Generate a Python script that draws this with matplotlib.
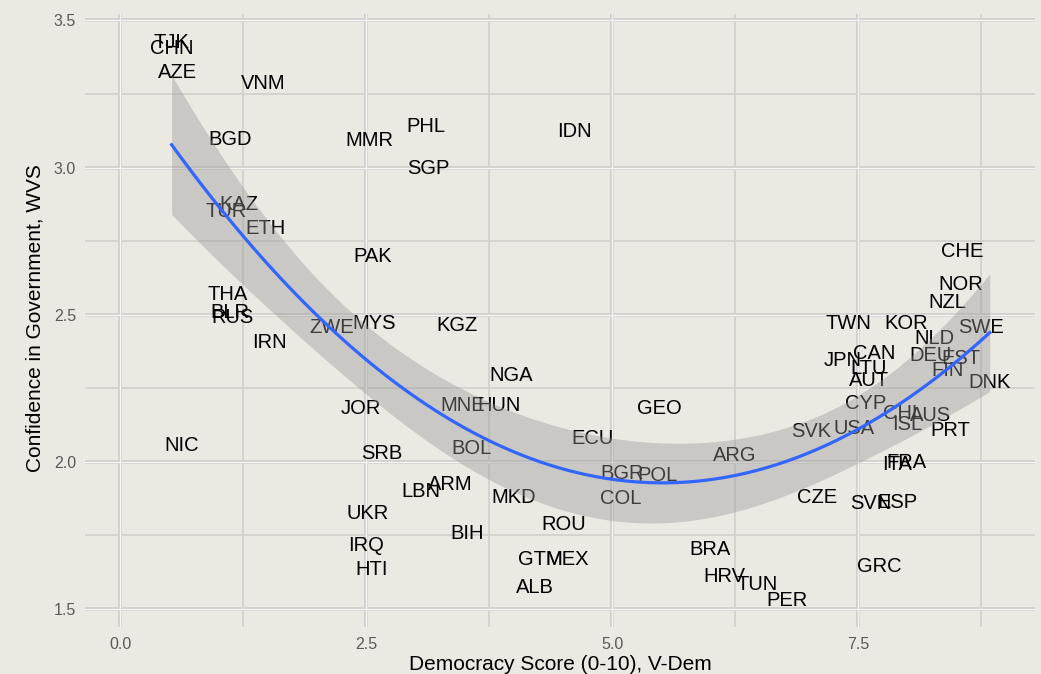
import numpy as np
import matplotlib
matplotlib.use("Agg")
import matplotlib.pyplot as plt
from matplotlib import transforms

# Country codes with democracy score (V-Dem, 0-10) and confidence in government (WVS)
countries = [
    "TJK", "CHN", "AZE", "VNM", "BGD", "KAZ", "TUR", "ETH", "THA", "BLR",
    "RUS", "IRN", "NIC", "ZWE", "MYS", "KGZ", "NGA", "JOR", "MNE", "HUN",
    "GEO", "ECU", "SRB", "BOL", "BGR", "POL", "COL", "ARG", "LBN", "ARM",
    "MKD", "UKR", "IRQ", "HTI", "BIH", "ROU", "GTM", "MEX", "ALB", "BRA",
    "HRV", "TUN", "PER", "CZE", "SVN", "ESP", "GRC", "FRA", "ITA", "SVK",
    "USA", "CYP", "CHL", "ISL", "AUS", "PRT", "AUT", "LTU", "JPN", "CAN",
    "TWN", "KOR", "NLD", "DEU", "EST", "FIN", "DNK", "SWE", "NZL", "NOR",
    "CHE", "IDN", "PHL", "MMR", "SGP", "PAK",
]
democracy = [
    0.52, 0.52, 0.58, 1.45, 1.11, 1.20, 1.07, 1.47, 1.09, 1.11,
    1.14, 1.51, 0.62, 2.15, 2.58, 3.42, 3.97, 2.44, 3.48, 3.85,
    5.48, 4.80, 2.66, 3.57, 5.10, 5.46, 5.09, 6.25, 3.05, 3.35,
    4.00, 2.51, 2.50, 2.55, 3.53, 4.51, 4.27, 4.54, 4.21, 5.99,
    6.14, 6.47, 6.78, 7.08, 7.63, 7.90, 7.72, 7.99, 7.90, 7.02,
    7.46, 7.58, 7.96, 8.00, 8.24, 8.44, 7.61, 7.61, 7.34, 7.66,
    7.40, 7.99, 8.28, 8.24, 8.55, 8.41, 8.84, 8.75, 8.41, 8.55,
    8.56, 4.62, 3.11, 2.53, 3.13, 2.56,
]
confidence = [
    3.432, 3.412, 3.330, 3.293, 3.103, 2.882, 2.858, 2.800, 2.576, 2.512,
    2.498, 2.410, 2.060, 2.464, 2.475, 2.468, 2.298, 2.186, 2.196, 2.196,
    2.186, 2.084, 2.033, 2.050, 1.965, 1.958, 1.880, 2.026, 1.904, 1.928,
    1.884, 1.829, 1.721, 1.639, 1.761, 1.792, 1.673, 1.673, 1.578, 1.707,
    1.615, 1.588, 1.534, 1.884, 1.863, 1.867, 1.649, 2.003, 1.996, 2.108,
    2.121, 2.206, 2.169, 2.132, 2.162, 2.111, 2.281, 2.322, 2.352, 2.373,
    2.475, 2.475, 2.424, 2.369, 2.356, 2.318, 2.274, 2.461, 2.549, 2.607,
    2.722, 3.130, 3.147, 3.099, 3.004, 2.705,
]

x_ticks = [0.0, 2.5, 5.0, 7.5]
y_ticks = [1.5, 2.0, 2.5, 3.0, 3.5]
x_minor = [1.25, 3.75, 6.25, 8.75]
y_minor = [1.75, 2.25, 2.75, 3.25]

BG = "#ECE8E2"


def quadratic_fit(x, y, grid):
    """OLS fit of y on a quadratic in x, with a 95% confidence band."""
    X = np.column_stack([np.ones_like(x), x, x ** 2])
    XtX_inv = np.linalg.inv(X.T @ X)
    beta = XtX_inv @ X.T @ y
    resid = y - X @ beta
    df = len(x) - X.shape[1]
    sigma = np.sqrt(resid @ resid / df)
    z = 1.959964
    t = z + (z ** 3 + z) / (4 * df) + (5 * z ** 5 + 16 * z ** 3 + 3 * z) / (96 * df ** 2)
    G = np.column_stack([np.ones_like(grid), grid, grid ** 2])
    fit = G @ beta
    se = sigma * np.sqrt(np.einsum("ij,jk,ik->i", G, XtX_inv, G))
    return fit, fit - t * se, fit + t * se


xd = np.array(democracy)
yd = np.array(confidence)
grid = np.linspace(xd.min(), xd.max(), 120)
fit, lo, hi = quadratic_fit(xd, yd, grid)

W, H = 1041, 674
fig = plt.figure(figsize=(W / 100, H / 100), dpi=100, facecolor=BG)
ax = fig.add_axes([85 / W, 1 - 627 / H, 950 / W, 613 / H], facecolor=BG)
ax.set_xlim(-0.361, 9.30)
ax.set_ylim(1.439, 3.522)
for s in ax.spines.values():
    s.set_visible(False)

# grid: major lines are white with a grey edge, minor lines thin grey
for v in x_ticks:
    ax.axvline(v, color="#CFCCC8", lw=2.6, zorder=0)
    ax.axvline(v, color="#F7F6F4", lw=1.0, zorder=0.1)
for v in y_ticks:
    ax.axhline(v, color="#CFCCC8", lw=2.6, zorder=0)
    ax.axhline(v, color="#F7F6F4", lw=1.0, zorder=0.1)
for v in x_minor:
    ax.axvline(v, color="#D4D1CC", lw=1.3, zorder=0)
for v in y_minor:
    ax.axhline(v, color="#D4D1CC", lw=1.3, zorder=0)

# country labels centred on their points
label_tr = transforms.offset_copy(ax.transData, fig=fig, x=0, y=-5.2, units="points")
for name, xv, yv in zip(countries, democracy, confidence):
    ax.text(xv, yv, name, transform=label_tr, ha="center", va="baseline",
            fontsize=14.5, family="Liberation Sans", color="black", zorder=2)

# smoother with confidence band
ax.fill_between(grid, lo, hi, color="#999999", alpha=0.4, lw=0, zorder=3)
ax.plot(grid, fit, color="#3366FF", lw=2.3, zorder=4)

ax.set_xticks(x_ticks)
ax.set_xticklabels([f"{v:.1f}" for v in x_ticks])
ax.set_yticks(y_ticks)
ax.set_yticklabels([f"{v:.1f}" for v in y_ticks])
ax.tick_params(length=0, labelsize=11.5, labelcolor="#5A5A5A")
ax.tick_params(axis="y", pad=6.5)
ax.tick_params(axis="x", pad=7.0)
for lab in ax.get_xticklabels() + ax.get_yticklabels():
    lab.set_family("Liberation Sans")

fig.text(560 / W, 1 - 664 / H, "Democracy Score (0-10), V-Dem", ha="center",
         va="center", fontsize=15, family="Liberation Sans", color="black")
fig.text(35.5 / W, 1 - 318 / H, "Confidence in Government, WVS", ha="center",
         va="center", rotation=90, fontsize=15, family="Liberation Sans",
         color="black")

fig.savefig("out.png", dpi=100, facecolor=BG)
